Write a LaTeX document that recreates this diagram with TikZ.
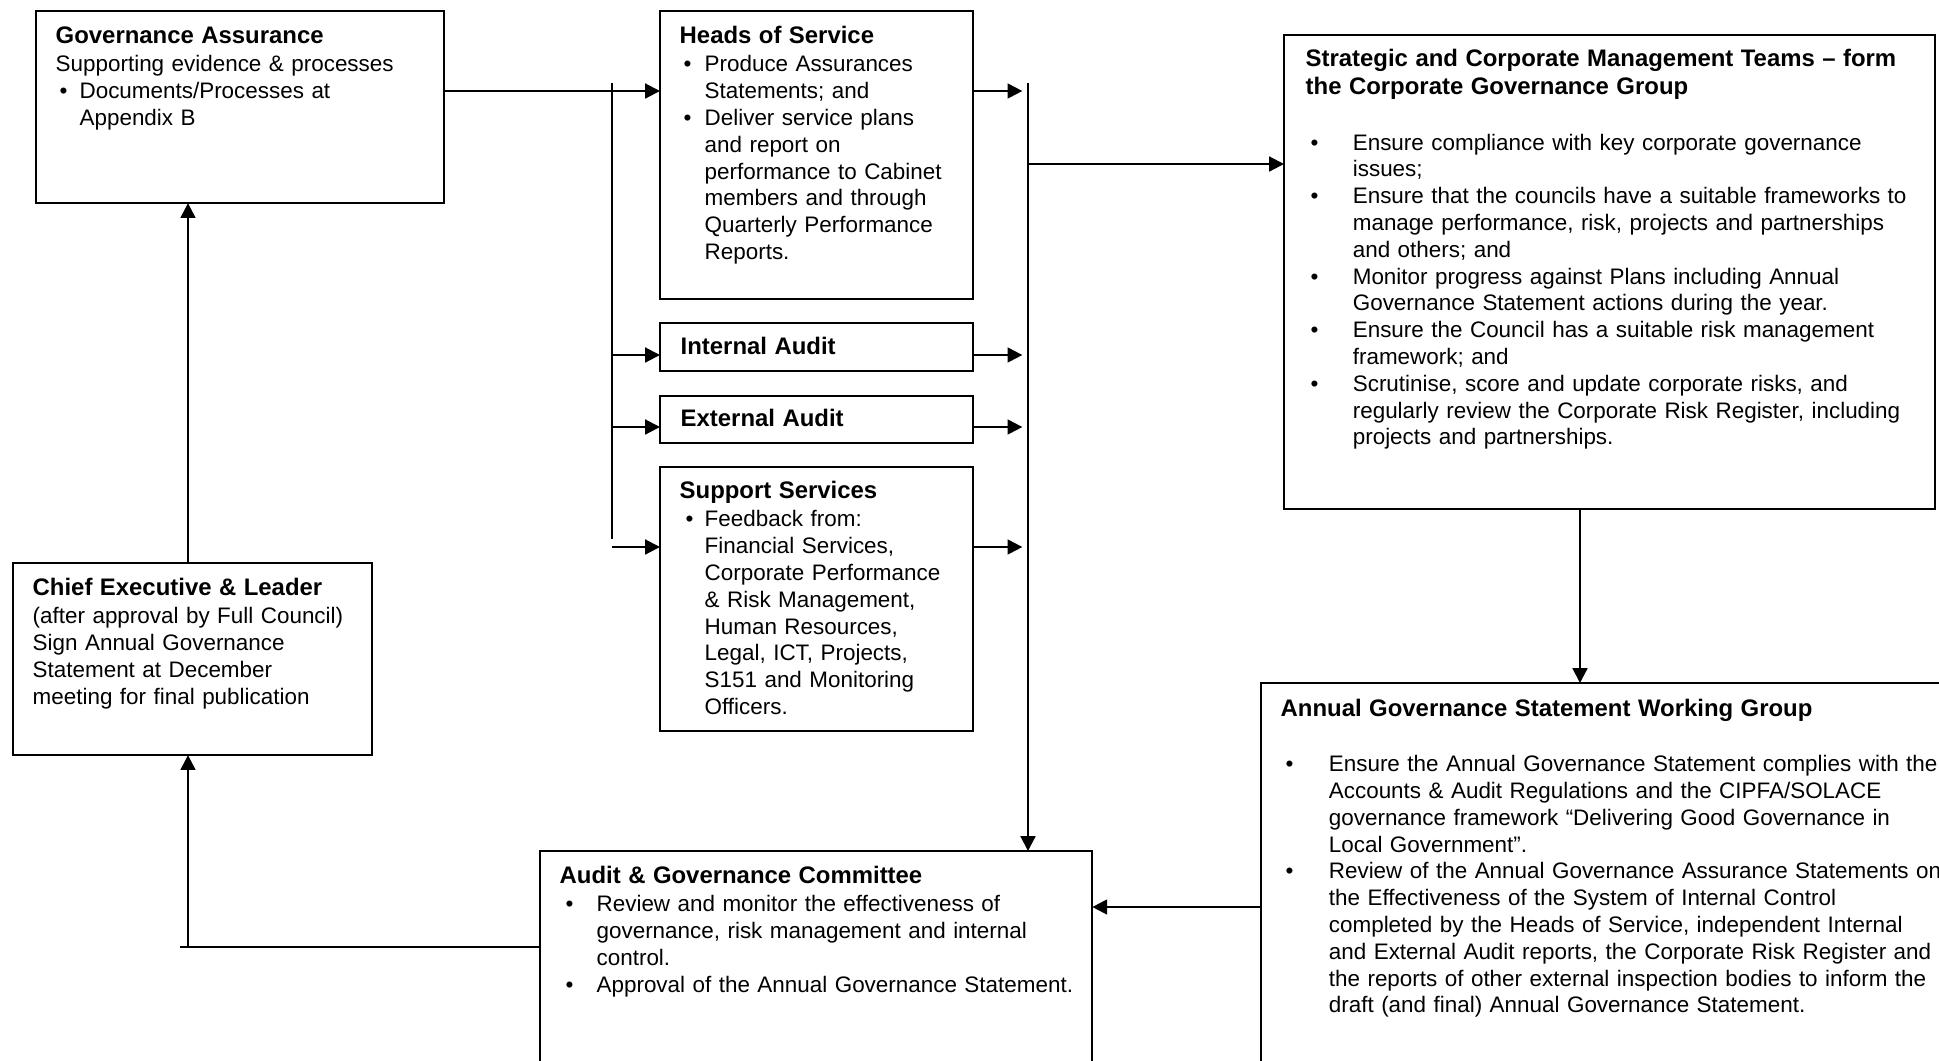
\documentclass[tikz,border=0pt]{standalone}
\usepackage{fontspec}
\setmainfont{Liberation Sans}
\usetikzlibrary{arrows.meta}

\newcommand{\bpt}[2]{\par\noindent\hangindent=#2\hangafter=1\makebox[#2][l]{\hspace*{#1}\textbullet}\ignorespaces}
\newcommand{\hd}[1]{{\fontsize{6.8pt}{8.1pt}\selectfont\bfseries #1\par}\vskip0.6pt}

\begin{document}
\begin{tikzpicture}[x=0.01cm, y=-0.01cm,
  box/.style={draw, line width=0.6pt, inner sep=0pt, outer sep=0pt, anchor=north west},
  txt/.style={anchor=base west, inner sep=0pt, align=left, font=\fontsize{6.38pt}{7.62pt}\selectfont},
  arr/.style={line width=0.6pt, -{Triangle[length=4.2pt,width=4.2pt]}},
  lin/.style={line width=0.6pt}]

\useasboundingbox (0,0) rectangle (1939,1060);
\clip (0,0) rectangle (1939,1060);

\node[box, minimum width=4.08cm, minimum height=1.92cm] (ga) at (36,11) {};
\node[box, minimum width=3.13cm, minimum height=2.88cm] (hos) at (660,11) {};
\node[box, minimum width=3.13cm, minimum height=0.48cm] (ia) at (660,323) {};
\node[box, minimum width=3.13cm, minimum height=0.47cm] (ea) at (660,396) {};
\node[box, minimum width=3.13cm, minimum height=2.64cm] (ss) at (660,467) {};
\node[box, minimum width=6.51cm, minimum height=4.74cm] (strat) at (1284,35) {};
\node[box, minimum width=7cm, minimum height=4.2cm] (ags) at (1261,683) {};
\node[box, minimum width=5.52cm, minimum height=2.5cm] (agc) at (540,851) {};
\node[box, minimum width=3.59cm, minimum height=1.92cm] (ce) at (13,563) {};

\node[txt, text width=3.9cm] (ga-t) at (55,43) {\noindent\hd{Governance Assurance}
  \noindent Supporting evidence \& processes
  \bpt{1.1pt}{6.8pt}Documents/Processes at\newline Appendix B\par};

\node[txt, text width=3cm] (hos-t) at (679,43) {\noindent\hd{Heads of Service}
  \bpt{1.1pt}{7.1pt}Produce Assurances\newline Statements; and
  \bpt{1.1pt}{7.1pt}Deliver service plans\newline and report on\newline
  performance to Cabinet\newline members and through\newline
  Quarterly Performance\newline Reports.\par};

\node[txt, text width=3cm] (ia-t) at (680,354) {\noindent\hd{Internal Audit}};
\node[txt, text width=3cm] (ea-t) at (680,426) {\noindent\hd{External Audit}};

\node[txt, text width=3cm] (ss-t) at (679,498) {\noindent\hd{Support Services}
  \bpt{1.7pt}{7.1pt}Feedback from:\newline Financial Services,\newline
  Corporate Performance\newline \& Risk Management,\newline
  Human Resources,\newline Legal, ICT, Projects,\newline
  S151 and Monitoring\newline Officers.\par};

\node[txt, text width=6.3cm] (strat-t) at (1305,66) {\noindent\hd{Strategic and Corporate Management Teams – form\newline
  the Corporate Governance Group}\vskip7.6pt
  \bpt{1.4pt}{13.4pt}Ensure compliance with key corporate governance\newline issues;
  \bpt{1.4pt}{13.4pt}Ensure that the councils have a suitable frameworks to\newline
  manage performance, risk, projects and partnerships\newline and others; and
  \bpt{1.4pt}{13.4pt}Monitor progress against Plans including Annual\newline
  Governance Statement actions during the year.
  \bpt{1.4pt}{13.4pt}Ensure the Council has a suitable risk management\newline framework; and
  \bpt{1.4pt}{13.4pt}Scrutinise, score and update corporate risks, and\newline
  regularly review the Corporate Risk Register, including\newline
  projects and partnerships.\par};

\node[txt, text width=7cm] (ags-t) at (1280,716) {\noindent\hd{Annual Governance Statement Working Group}\vskip7.6pt
  \bpt{1.4pt}{13.7pt}Ensure the Annual Governance Statement complies with the\newline
  Accounts \& Audit Regulations and the CIPFA/SOLACE\newline
  governance framework “Delivering Good Governance in\newline
  Local Government”.
  \bpt{1.4pt}{13.7pt}Review of the Annual Governance Assurance Statements on\newline
  the Effectiveness of the System of Internal Control\newline
  completed by the Heads of Service, independent Internal\newline
  and External Audit reports, the Corporate Risk Register and\newline
  the reports of other external inspection bodies to inform the\newline
  draft (and final) Annual Governance Statement.\par};

\node[txt, text width=5.2cm] (agc-t) at (559,883) {\noindent\hd{Audit \& Governance Committee}
  \bpt{1.7pt}{10.5pt}Review and monitor the effectiveness of\newline
  governance, risk management and internal\newline control.
  \bpt{1.7pt}{10.5pt}Approval of the Annual Governance Statement.\par};

\node[txt, text width=3.3cm] (ce-t) at (32,595) {\noindent\hd{Chief Executive \& Leader}
  \noindent(after approval by Full Council)\newline Sign Annual Governance\newline
  Statement at December\newline meeting for final publication\par};

\coordinate (busL-top) at (612,83);
\coordinate (busL-bot) at (612,539);
\coordinate (busR-top) at (1028,83);
\coordinate (y-ga) at (0,91);
\coordinate (y-ia) at (0,355);
\coordinate (y-ea) at (0,427);
\coordinate (y-ss) at (0,547);
\coordinate (y-st) at (0,164);
\coordinate (y-ag) at (0,907);
\coordinate (x-sa) at (1580,0);
\coordinate (turn) at (188,947);
\coordinate (turn-end) at (180,947);

\draw[lin] (busL-top) -- (busL-bot);
\draw[arr] (busR-top) -- (busR-top |- agc.north);

\draw[arr] (ga.east |- y-ga) -- (hos.west |- y-ga);
\foreach \b/\r in {ia/y-ia, ea/y-ea, ss/y-ss}
  \draw[arr] (busL-top |- \r) -- (\b.west |- \r);
\foreach \b/\r in {hos/y-ga, ia/y-ia, ea/y-ea, ss/y-ss}
  \draw[arr, shorten >=1.6pt] (\b.east |- \r) -- (busR-top |- \r);

\draw[arr] (busR-top |- y-st) -- (strat.west |- y-st);
\draw[arr] (strat.south -| x-sa) -- (ags.north -| x-sa);
\draw[arr] (ags.west |- y-ag) -- (agc.east |- y-ag);
\draw[lin] (agc.west |- turn) -- (turn-end);
\draw[arr] (turn) -- (ce.south -| turn);
\draw[arr] (ce.north -| turn) -- (ga.south -| turn);

\end{tikzpicture}
\end{document}
